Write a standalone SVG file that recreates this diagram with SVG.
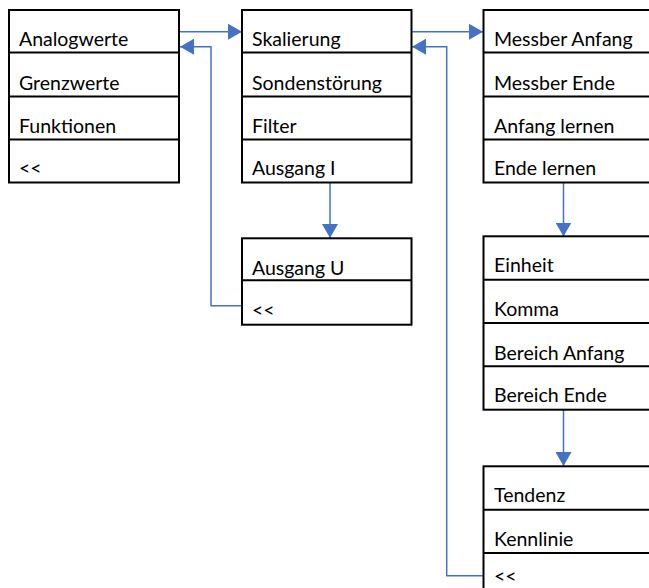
<svg xmlns="http://www.w3.org/2000/svg" width="649" height="588" viewBox="0 0 649 588">
<style>
.box{fill:#fff;stroke:#000;stroke-width:2}
.sep{stroke:#000;stroke-width:2}
.t{font-family:Lato,"Noto Sans",sans-serif;font-size:19.5px;fill:#000}
.c{fill:none;stroke:#4472C4;stroke-width:1.5}
</style>
<defs>
<marker id="ah" markerWidth="14" markerHeight="16" refX="14" refY="8" orient="auto" markerUnits="userSpaceOnUse">
<path d="M0,0 L14,8 L0,16 Z" fill="#4472C4"/>
</marker>
</defs>
<rect width="649" height="588" fill="#fff"/>
<g id="connectors">
<path class="c" d="M179,31.7 H242" marker-end="url(#ah)"/>
<path class="c" d="M242,305.7 H211 V46.7 H180" marker-end="url(#ah)"/>
<path class="c" d="M411.5,31.7 H483" marker-end="url(#ah)"/>
<path class="c" d="M483,575.7 H446.7 V46.7 H412" marker-end="url(#ah)"/>
<path class="c" d="M330,182 V238" marker-end="url(#ah)"/>
<path class="c" d="M563.5,182 V236.5" marker-end="url(#ah)"/>
<path class="c" d="M563.5,409.7 V466" marker-end="url(#ah)"/>
</g>
<g id="menu1">
<rect class="box" x="9" y="10" width="170" height="172.5"/>
<line class="sep" x1="9" y1="52.5" x2="179" y2="52.5"/>
<line class="sep" x1="9" y1="96.5" x2="179" y2="96.5"/>
<line class="sep" x1="9" y1="139.5" x2="179" y2="139.5"/>
<text class="t" x="19" y="46">Analogwerte</text>
<text class="t" x="19" y="90">Grenzwerte</text>
<text class="t" x="19" y="133">Funktionen</text>
<text class="t" x="19" y="175">&lt;&lt;</text>
</g>
<g id="menu2">
<rect class="box" x="242" y="10" width="169.5" height="172.5"/>
<line class="sep" x1="242" y1="52.5" x2="411.5" y2="52.5"/>
<line class="sep" x1="242" y1="96.5" x2="411.5" y2="96.5"/>
<line class="sep" x1="242" y1="139.5" x2="411.5" y2="139.5"/>
<text class="t" x="252" y="46">Skalierung</text>
<text class="t" x="252" y="90">Sondenstörung</text>
<text class="t" x="252" y="133">Filter</text>
<text class="t" x="252" y="175">Ausgang I</text>
</g>
<g id="menu3">
<rect class="box" x="483.5" y="10" width="180" height="172.5"/>
<line class="sep" x1="483.5" y1="52.5" x2="660" y2="52.5"/>
<line class="sep" x1="483.5" y1="96.5" x2="660" y2="96.5"/>
<line class="sep" x1="483.5" y1="139.5" x2="660" y2="139.5"/>
<text class="t" x="494" y="46">Messber Anfang</text>
<text class="t" x="494" y="90">Messber Ende</text>
<text class="t" x="494" y="133">Anfang lernen</text>
<text class="t" x="494" y="175">Ende lernen</text>
</g>
<g id="menu4">
<rect class="box" x="242" y="238.3" width="169.5" height="86.4"/>
<line class="sep" x1="242" y1="280.3" x2="411.5" y2="280.3"/>
<text class="t" x="252" y="275">Ausgang U</text>
<text class="t" x="252" y="317">&lt;&lt;</text>
</g>
<g id="menu5">
<rect class="box" x="483.5" y="236.3" width="180" height="173.4"/>
<line class="sep" x1="483.5" y1="279.7" x2="660" y2="279.7"/>
<line class="sep" x1="483.5" y1="323" x2="660" y2="323"/>
<line class="sep" x1="483.5" y1="366.3" x2="660" y2="366.3"/>
<text class="t" x="494" y="272.3">Einheit</text>
<text class="t" x="494" y="315.7">Komma</text>
<text class="t" x="494" y="360">Bereich Anfang</text>
<text class="t" x="494" y="402.3">Bereich Ende</text>
</g>
<g id="menu6">
<rect class="box" x="483.5" y="466.3" width="180" height="140"/>
<line class="sep" x1="483.5" y1="509.7" x2="660" y2="509.7"/>
<line class="sep" x1="483.5" y1="553" x2="660" y2="553"/>
<text class="t" x="494" y="501.7">Tendenz</text>
<text class="t" x="494" y="545.7">Kennlinie</text>
<text class="t" x="494" y="583">&lt;&lt;</text>
</g>
</svg>
